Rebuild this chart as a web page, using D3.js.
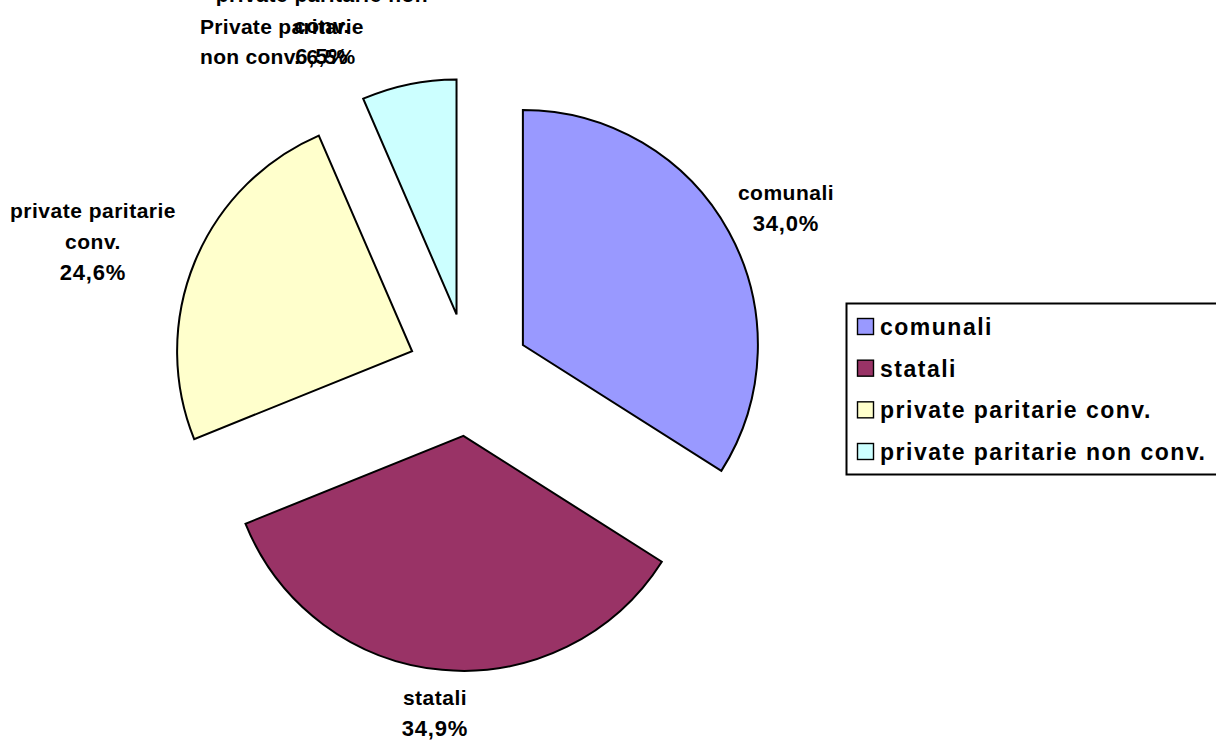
<!DOCTYPE html>
<html>
<head>
<meta charset="utf-8">
<script src="https://cdn.jsdelivr.net/npm/d3@7"></script>
<style>
  html, body { margin: 0; padding: 0; background: #fff; }
  svg { display: block; }
  text { font-family: "Liberation Sans", Arial, sans-serif; font-weight: bold; fill: #000; }
</style>
</head>
<body>
<svg id="chart" width="1216" height="743"></svg>
<script>
const categories = ["comunali", "statali", "private paritarie conv.", "private paritarie non conv."];
const values = [34.0, 34.9, 24.6, 6.5];
const colors = ["#9999FF", "#993366", "#FFFFCC", "#CCFFFF"];
const labelLines = [["comunali"], ["statali"], ["private paritarie", "conv."], ["private paritarie non", "conv."]];
const percentLabels = ["34,0%", "34,9%", "24,6%", "6,5%"];
const extraLines = ["Private paritarie", "non conv. 6,5%"];

const cx = 469, cy = 374.6, R = 235, explode = 61.5;
const svg = d3.select("#chart");

const pie = d3.pie().sort(null).value(d => d)(values);
const arc = d3.arc().innerRadius(0).outerRadius(R);

const g = svg.append("g").attr("transform", `translate(${cx},${cy})`);
g.selectAll("path").data(pie).join("path")
  .attr("d", arc)
  .attr("fill", (d, i) => colors[i])
  .attr("stroke", "#000")
  .attr("stroke-width", 2)
  .attr("stroke-linejoin", "miter")
  .attr("transform", d => {
    const a = (d.startAngle + d.endAngle) / 2;
    return `translate(${explode * Math.sin(a)},${-explode * Math.cos(a)})`;
  });

// data labels outside each slice
const labelPos = [
  {x: 786, y: 200}, {x: 435, y: 705}, {x: 93, y: 218}, {x: 322, y: 2}
];
const lh = 31;
pie.forEach((d, i) => {
  const t = svg.append("text").attr("text-anchor", "middle").attr("font-size", 21);
  const lines = labelLines[i].concat([percentLabels[i]]);
  lines.forEach((s, k) => {
    const ts = t.append("tspan").attr("x", labelPos[i].x).attr("y", labelPos[i].y + k * lh).text(s);
    if (k === lines.length - 1) ts.attr("font-size", 22).attr("letter-spacing", 0.8);
    else ts.attr("letter-spacing", 0.5);
  });
});
// overlapping extra text at top (as in the reference)
const extra = svg.append("text").attr("font-size", 21).attr("letter-spacing", 0.3);
extraLines.forEach((s, k) => {
  extra.append("tspan").attr("x", 200).attr("y", 34 + k * 30).text(s);
});

// legend
const legend = svg.append("g");
legend.append("rect").attr("x", 846.5).attr("y", 303.5).attr("width", 400).attr("height", 171)
  .attr("fill", "#fff").attr("stroke", "#000").attr("stroke-width", 2);
const ly = d3.scalePoint().domain(categories).range([335, 460]);
categories.forEach((c, i) => {
  legend.append("rect").attr("x", 857.5).attr("y", ly(c) - 16.5).attr("width", 16).attr("height", 16)
    .attr("fill", colors[i]).attr("stroke", "#000").attr("stroke-width", 1.4);
  legend.append("text").attr("x", 880).attr("y", ly(c)).attr("font-size", 23)
    .attr("letter-spacing", 1.5).text(c);
});
</script>
</body>
</html>
